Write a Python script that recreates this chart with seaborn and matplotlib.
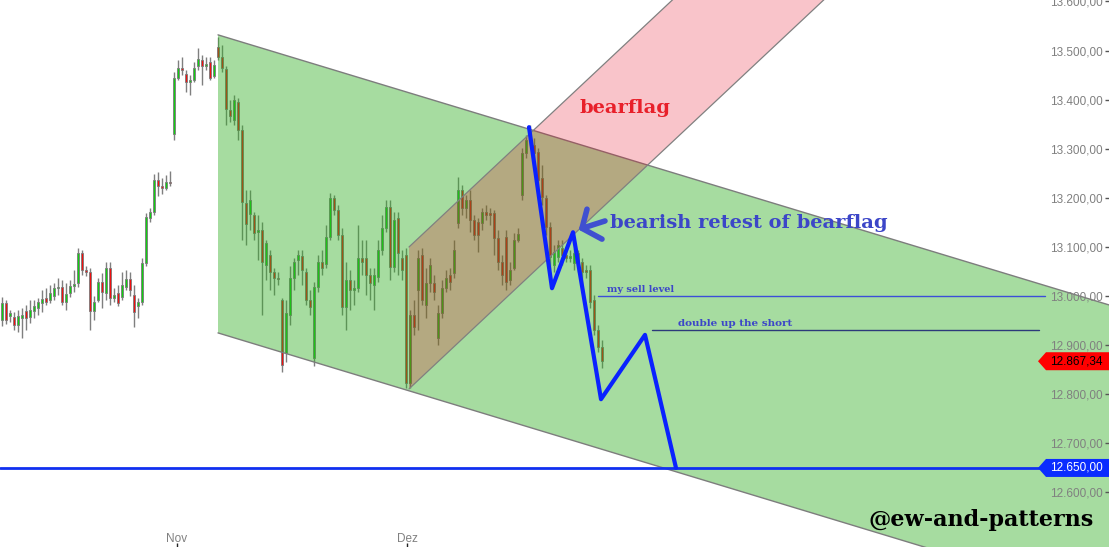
import numpy as np
import pandas as pd
import matplotlib
matplotlib.use("Agg")
import matplotlib.pyplot as plt
import seaborn as sns
from matplotlib.patches import Polygon
from matplotlib.ticker import FuncFormatter
from matplotlib.transforms import blended_transform_factory

# ---------------- data ----------------
opens = [
    12951, 12986, 12959, 12957, 12941, 12955, 12969, 12957, 12969, 12976,
    12986, 12996, 12992, 13000, 13016, 13018, 12988, 13006, 13020, 13027,
    13088, 13053, 13049, 12969, 12992, 13029, 13006, 13057, 12996, 13006,
    12998, 13018, 13035, 13002, 12980, 12988, 13067, 13159, 13171, 13237,
    13224, 13220, 13233, 13330, 13445, 13465, 13453, 13437, 13441, 13469,
    13481, 13469, 13477, 13449, 13508,
    13486, 13463, 13379, 13359, 13396, 13339, 13190, 13167, 13165, 13131,
    13135, 13063, 13084, 13049, 13037, 12992, 12884, 12961, 13037, 13073,
    13082, 13049, 12992, 12874, 13018, 13069, 13065, 13120, 13200, 13175,
    13124, 12978, 13033, 13012, 13016, 13078, 13078, 13043, 13022, 13039,
    13094, 13139, 13182, 13059, 13159, 13078, 13084, 12823, 12961, 13012,
    13084, 12982, 13027, 13027, 12914, 12965, 13016, 13043, 13047, 13149,
    13216, 13180, 13196, 13155, 13151, 13149, 13171, 13169, 13169, 13118,
    13069, 13120, 13033, 13057, 13114, 13206, 13292, 13318, 13308, 13294,
    13241, 13200, 13141, 13063, 13080, 13098, 13084, 13078, 13067, 13088,
    13069, 13053, 13053, 12992, 12931, 12896,
]
closes = [
    12986, 12951, 12965, 12941, 12959, 12961, 12955, 12971, 12980, 12988,
    12994, 12988, 13006, 13016, 13018, 12988, 13004, 13020, 13024, 13088,
    13053, 13049, 12969, 12988, 13029, 13008, 13057, 12996, 13002, 12986,
    13022, 13035, 13012, 12967, 12988, 13067, 13161, 13171, 13237, 13224,
    13220, 13233, 13231, 13445, 13465, 13461, 13437, 13441, 13465, 13483,
    13469, 13473, 13445, 13471, 13486,
    13465, 13381, 13367, 13400, 13339, 13192, 13147, 13196, 13129, 13135,
    13069, 13108, 13049, 13037, 13035, 12859, 12965, 13037, 13069, 13084,
    13053, 12992, 12978, 13018, 13069, 13057, 13120, 13200, 13175, 13124,
    12978, 13033, 13012, 13016, 13078, 13069, 13043, 13027, 13043, 13094,
    13139, 13182, 13059, 13155, 13088, 13053, 12823, 12961, 12937, 13078,
    12992, 13027, 13063, 13008, 12965, 13016, 13037, 13029, 13094, 13216,
    13180, 13196, 13155, 13124, 13124, 13171, 13165, 13165, 13118, 13069,
    13043, 13029, 13053, 13114, 13126, 13292, 13318, 13333, 13292, 13237,
    13202, 13141, 13080, 13090, 13104, 13084, 13078, 13082, 13088, 13069,
    13049, 13049, 12988, 12931, 12896, 12867.34,
]
highs = [
    12998, 12992, 12971, 12967, 12971, 12976, 12982, 12992, 12992, 12996,
    13012, 13016, 13022, 13027, 13037, 13033, 13027, 13033, 13053, 13098,
    13094, 13061, 13057, 13000, 13037, 13047, 13069, 13069, 13016, 13022,
    13049, 13053, 13049, 13022, 12996, 13078, 13169, 13180, 13249, 13253,
    13241, 13247, 13255, 13457, 13481, 13486, 13461, 13451, 13477, 13506,
    13492, 13486, 13486, 13481, 13528,
    13512, 13469, 13400, 13410, 13404, 13349, 13216, 13216, 13171, 13165,
    13151, 13114, 13094, 13057, 13049, 12996, 12992, 13061, 13078, 13094,
    13094, 13057, 13012, 13029, 13084, 13094, 13145, 13210, 13206, 13186,
    13139, 13069, 13053, 13033, 13145, 13114, 13114, 13057, 13057, 13114,
    13165, 13196, 13196, 13171, 13171, 13094, 13098, 12971, 12992, 13094,
    13098, 13057, 13078, 13043, 12982, 13033, 13053, 13057, 13114, 13243,
    13226, 13206, 13216, 13165, 13159, 13180, 13186, 13180, 13175, 13135,
    13084, 13135, 13069, 13129, 13139, 13302, 13328, 13349, 13322, 13302,
    13267, 13206, 13151, 13104, 13114, 13114, 13098, 13094, 13098, 13094,
    13078, 13063, 13063, 13002, 12941, 12910,
]
lows = [
    12939, 12943, 12947, 12931, 12927, 12914, 12931, 12945, 12955, 12961,
    12967, 12982, 12986, 12992, 13002, 12982, 12971, 12998, 13008, 13018,
    13043, 13041, 12931, 12951, 12988, 12976, 12992, 12982, 12988, 12980,
    12992, 13012, 13000, 12937, 12955, 12982, 13061, 13151, 13165, 13204,
    13208, 13216, 13224, 13318, 13441, 13451, 13416, 13410, 13437, 13461,
    13430, 13461, 13441, 13445, 13481,
    13457, 13349, 13355, 13349, 13318, 13114, 13104, 13135, 13114, 13073,
    12961, 13033, 13012, 13002, 13022, 12845, 12865, 12941, 13012, 13043,
    13022, 12982, 12961, 12857, 13008, 13043, 13057, 13114, 13165, 13114,
    12961, 12931, 12971, 12982, 13008, 13043, 13002, 12992, 12971, 13029,
    13084, 13131, 13033, 13049, 13043, 13033, 12812, 12812, 12920, 12931,
    12982, 12955, 13008, 12992, 12900, 12955, 13008, 13012, 13037, 13139,
    13165, 13159, 13131, 13114, 13090, 13135, 13155, 13145, 13084, 13053,
    13022, 13012, 13022, 13053, 13110, 13196, 13282, 13308, 13277, 13220,
    13186, 13124, 13053, 13049, 13069, 13063, 13069, 13069, 13053, 13049,
    13012, 13037, 12976, 12920, 12886, 12853,
]

x_tick_labels = ["Nov", "Dez"]
x_tick_pos = [43.75, 101.25]
y_ticks = [12600, 12700, 12800, 12900, 13000, 13100, 13200, 13300, 13400, 13500, 13600]

# falling channel (green): bar index, upper / lower price
channel_x = [54, 276.75]
channel_upper = [13532, 12982]
channel_lower = [12925, 12375]

# bear flag (rising channel)
flag_x0 = 101.75
flag_lower0 = 12811
flag_upper0 = 13100
flag_slope = 7.64          # price per bar
flag_top = 13700

# projected path
proj_x = [131.75, 137.5, 142.75, 149.75, 160.75, 168.5]
proj_y = [13344, 13016, 13130, 12790, 12921, 12650]

target_level = 12650
sell_level = 13000
sell_x = [149, 260.75]
double_level = 12930
double_x = [162.5, 259.25]
last_price = 12867.34

arrow_x = [146.25, 145, 150]
arrow_y = [13177, 13138, 13116]
arrow_shaft_x = [145, 150.75]
arrow_shaft_y = [13138, 13153]

# ---------------- style ----------------
sns.set_theme(style="white")
plt.rcParams["font.family"] = ["Liberation Sans", "DejaVu Sans"]

fig = plt.figure(figsize=(11.09, 5.47), dpi=100)
ax = fig.add_axes([0, 0, 1, 1])
ax.set_facecolor("white")
XMIN, XMAX = -0.5, 276.75
YMIN, YMAX = 12489, 13603
ax.set_xlim(XMIN, XMAX)
ax.set_ylim(YMIN, YMAX)

df = pd.DataFrame({"o": opens, "c": closes, "h": highs, "l": lows})
df["i"] = np.arange(len(df))
up = df["c"] >= df["o"]

# candles
ax.vlines(df["i"], df["l"], df["h"], color="#7f7f7f", lw=1.0, zorder=1)
body_h = (df["c"] - df["o"]).where((df["c"] - df["o"]).abs() > 1.5, 1.5)
ax.bar(df["i"], body_h, bottom=df["o"], width=0.72,
       color=np.where(up, "#10d010", "#f01010"),
       edgecolor="#7a7a7a", linewidth=0.6, zorder=2)

# green falling channel
gpoly = Polygon([(channel_x[0], channel_upper[0]), (channel_x[1], channel_upper[1]),
                 (channel_x[1], channel_lower[1]), (channel_x[0], channel_lower[0])],
                closed=True, facecolor=(49/255, 174/255, 35/255), alpha=0.43,
                edgecolor="none", zorder=3)
ax.add_patch(gpoly)
ax.plot(channel_x, channel_upper, color="#7d7d7d", lw=1.0, zorder=4)
ax.plot(channel_x, channel_lower, color="#7d7d7d", lw=1.0, zorder=4)

# bear flag channel
fx_up = flag_x0 + (flag_top - flag_upper0) / flag_slope
fx_lo = flag_x0 + (flag_top - flag_lower0) / flag_slope
fpoly = Polygon([(flag_x0, flag_lower0), (flag_x0, flag_upper0),
                 (fx_up, flag_top), (fx_lo, flag_top)],
                closed=True, facecolor=(230/255, 0, 26/255), alpha=0.23,
                edgecolor="none", zorder=5)
ax.add_patch(fpoly)
ax.plot([flag_x0, fx_up], [flag_upper0, flag_top], color="#808080", lw=0.9, zorder=5)
ax.plot([flag_x0, fx_lo], [flag_lower0, flag_top], color="#808080", lw=0.9, zorder=5)

# horizontal levels
ax.axhline(target_level, color="#1030f0", lw=2.0, zorder=6)
ax.plot(sell_x, [sell_level, sell_level], color="#3c4ed8", lw=1.0, zorder=6)
ax.plot(double_x, [double_level, double_level], color="#2c3a7a", lw=1.0, zorder=6)

# projected path
proj = pd.DataFrame({"x": proj_x, "y": proj_y})
sns.lineplot(data=proj, x="x", y="y", sort=False, estimator=None,
             color="#0a22ff", lw=3.0, ax=ax, zorder=8)
ax.set_xlabel("")
ax.set_ylabel("")

# arrow of the retest
ax.plot(arrow_x, arrow_y, color="#4050d0", lw=4, solid_capstyle="round",
        solid_joinstyle="round", zorder=9)
ax.plot(arrow_shaft_x, arrow_shaft_y, color="#4050d0", lw=4,
        solid_capstyle="round", zorder=9)

# texts
serif = ["DejaVu Serif"]
ax.text(144.5, 13383, "bearflag", color="#e8202a", fontsize=14, fontweight="bold",
        family=serif, va="center", ha="left", zorder=10)
ax.text(152, 13148, "bearish retest of bearflag", color="#3c46c8", fontsize=14,
        fontweight="bold", family=serif, va="center", ha="left", zorder=10)
ax.text(151.3, 13004, "my sell level", color="#3c46c8", fontsize=7, fontweight="bold",
        family=serif, va="bottom", ha="left", zorder=10)
ax.text(169, 12936, "double up the short", color="#3c46c8", fontsize=7.5,
        fontweight="bold", family=serif, va="bottom", ha="left", zorder=10)
ax.text(216.5, 12545, "@ew-and-patterns", color="black", fontsize=16,
        fontweight="bold", family=serif, va="center", ha="left", zorder=10)

# axes / ticks
for s in ax.spines.values():
    s.set_visible(False)
ax.yaxis.tick_right()
ax.set_yticks(y_ticks)
ax.yaxis.set_major_formatter(FuncFormatter(
    lambda v, p: f"{v:,.2f}".replace(",", "X").replace(".", ",").replace("X", ".")))
ax.tick_params(axis="y", direction="in", length=3, width=1, color="#555555",
               pad=-4.5, labelsize=8.5, labelcolor="#808080", right=True, left=False)
for lbl in ax.get_yticklabels():
    lbl.set_horizontalalignment("right")
ax.set_xticks(x_tick_pos)
ax.set_xticklabels(x_tick_labels)
ax.tick_params(axis="x", direction="in", length=3, width=1, color="#222222",
               pad=-1.5, labelsize=8.5, labelcolor="#808080", bottom=True)
for lbl in ax.get_xticklabels():
    lbl.set_verticalalignment("bottom")
ax.xaxis.set_zorder(20)
ax.yaxis.set_zorder(20)
ax.grid(False)

# price tags at the right
tr = blended_transform_factory(ax.transAxes, ax.transData)
hh = 9 / 547 * (YMAX - YMIN)
x_tip, x_body = 1038 / 1109, 1046 / 1109


def tag(price, label, fc, tc):
    ax.add_patch(Polygon([(x_tip, price), (x_body, price + hh), (1, price + hh),
                          (1, price - hh), (x_body, price - hh)], closed=True,
                         facecolor=fc, edgecolor="none", transform=tr, zorder=21,
                         clip_on=False))
    ax.text(1103 / 1109, price, label, transform=tr, ha="right", va="center",
            color=tc, fontsize=8.5, zorder=22)


fmt = lambda v: f"{v:,.2f}".replace(",", "X").replace(".", ",").replace("X", ".")
tag(last_price, fmt(last_price), "#ff0000", "black")
tag(target_level, fmt(target_level), "#0a2cff", "white")

fig.savefig("out.png", dpi=100)
